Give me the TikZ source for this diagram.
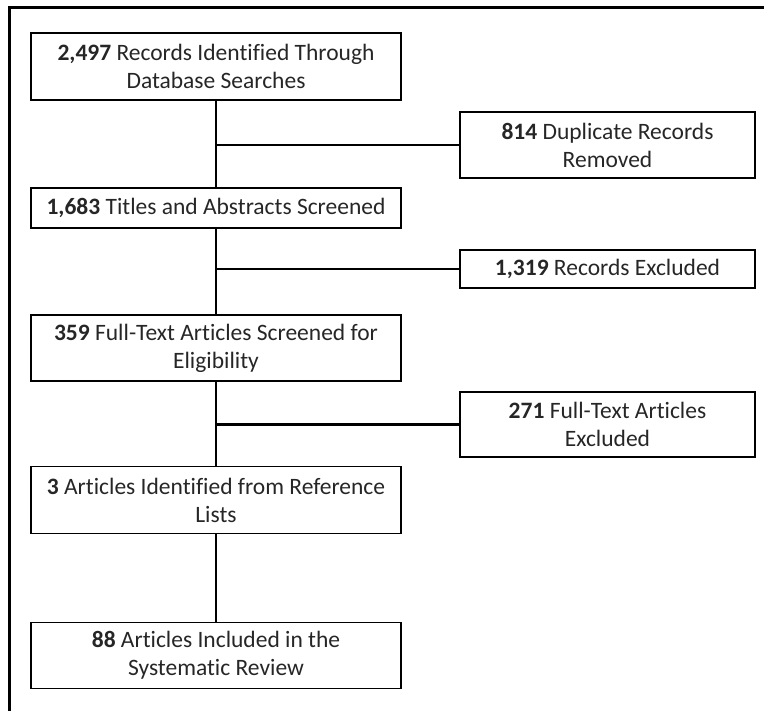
\documentclass[tikz,border=0pt]{standalone}
\usepackage{fontspec}
\setmainfont{Carlito}[Ligatures=NoCommon]

\tikzset{
  mainbox/.style={draw,line width=1.8pt,minimum width=370pt,align=center,inner sep=0pt},
  sidebox/.style={draw,line width=1.8pt,minimum width=295pt,align=center,inner sep=0pt},
  link/.style={line width=2.4pt}
}

\begin{document}
\begin{tikzpicture}[x=1pt,y=-1pt,font=\fontsize{23.5}{28}\selectfont,text=black!85]

\useasboundingbox (0,0) rectangle (764,711);
\draw[line width=3pt] (9,711) -- (9,8) -- (764,8);

\node[mainbox,minimum height=67pt] (rec) at (216,66.5) {\textbf{2,497} Records Identified Through\\Database Searches};
\node[mainbox,minimum height=40pt] (tit) at (216,208) {\textbf{1,683} Titles and Abstracts Screened};
\node[mainbox,minimum height=66pt] (ful) at (216,348) {\textbf{359} Full-Text Articles Screened for\\Eligibility};
\node[mainbox,minimum height=67pt] (ref) at (216,500) {\textbf{3} Articles Identified from Reference\\Lists};
\node[mainbox,minimum height=66pt] (inc) at (216,655.5) {\textbf{88} Articles Included in the\\Systematic Review};

\node[sidebox,minimum height=66pt] (dup) at (607.5,145) {\textbf{814} Duplicate Records\\Removed};
\node[sidebox,minimum height=38pt] (exc) at (607.5,269) {\textbf{1,319} Records Excluded};
\node[sidebox,minimum height=65pt] (art) at (607.5,424.5) {\textbf{271} Full-Text Articles\\Excluded};

\draw[link] (rec) -- (tit);
\draw[link] (tit) -- (ful);
\draw[link] (ful) -- (ref);
\draw[link] (ref) -- (inc);

\draw[link] (rec.south |- dup.west) -- (dup);
\draw[link] (tit.south |- exc.west) -- (exc);
\draw[link] (ful.south |- art.west) -- (art);

\end{tikzpicture}
\end{document}
